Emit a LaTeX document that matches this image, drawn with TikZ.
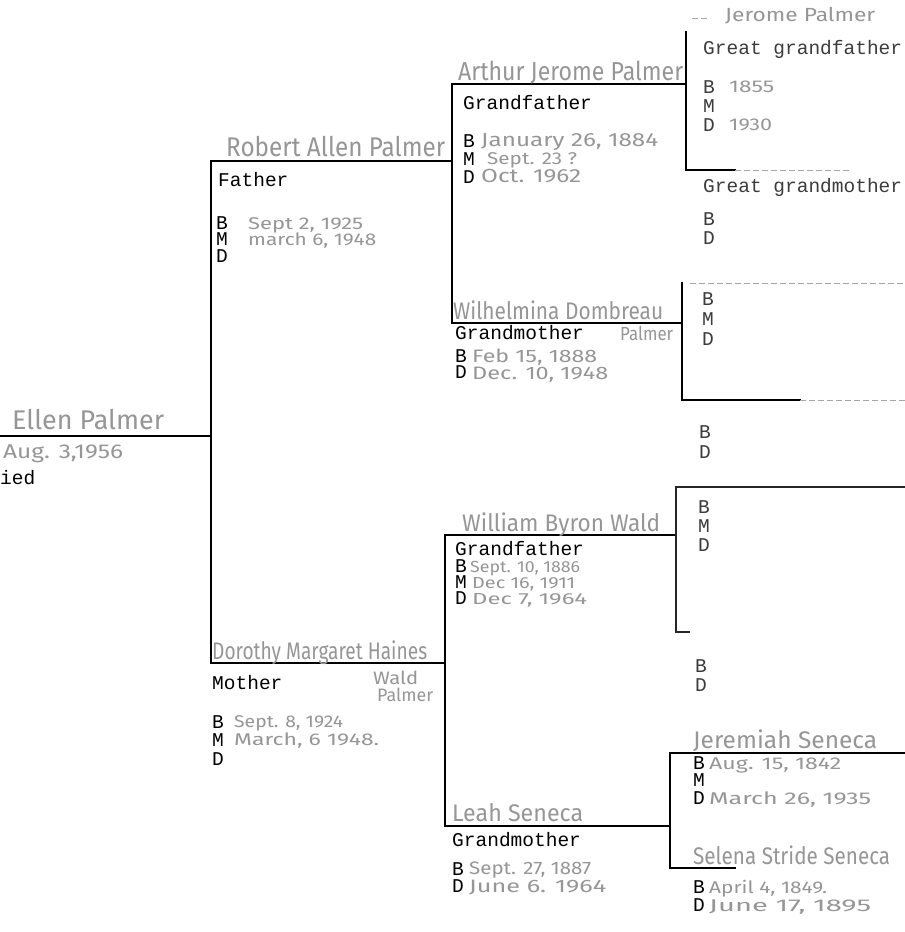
\documentclass[tikz,border=0pt]{standalone}
\usepackage{fontspec}
\newfontfamily\tw{Liberation Mono}
\newfontfamily\hand{Fira Sans}
\definecolor{hgray}{RGB}{150,150,150}
\definecolor{tgray}{RGB}{60,60,60}
\newsavebox\hwbox
\newcommand\hw[3]{\sbox\hwbox{\fontsize{#1}{#1}\hand #3}\pgfmathsetmacro\hwfac{#2/\the\wd\hwbox}\scalebox{\hwfac}[1]{\usebox\hwbox}}
\tikzset{
  hand/.style={anchor=base west, inner sep=0pt, text=hgray, text height=12pt, text depth=2pt},
  typed/.style={anchor=base west, inner sep=0pt, font=\fontsize{19.5}{19.5}\tw, text height=11pt, text depth=1pt},
  typedl/.style={typed, text=tgray},
  chart/.style={line width=2.6pt, black, line cap=rect},
  thin chart/.style={line width=1.8pt, black!85},
  faint/.style={line width=1pt, black!35, dash pattern=on 6pt off 3pt}
}
\begin{document}
\begin{tikzpicture}[x=1pt,y=-1pt]
\fill[white] (0,0) rectangle (905,932);
\useasboundingbox (0,0) rectangle (905,932);

% ---------- coordinates of the chart lines
\coordinate (s0) at (0,436);
\coordinate (s1) at (211,436);
\coordinate (pT) at (211,161);
\coordinate (pB) at (211,663);
\coordinate (fR) at (452,161);
\coordinate (mR) at (445,663);
\coordinate (pgfL) at (452,84);
\coordinate (pgfR) at (686,84);
\coordinate (pgmL) at (452,323);
\coordinate (pgmR) at (682,323);
\coordinate (g1t) at (686,32);
\coordinate (g1b) at (686,170);
\coordinate (g1r) at (735,170);
\coordinate (g1f) at (850,170);
\coordinate (g1a) at (692,18);
\coordinate (g1c) at (710,18);
\coordinate (g2t) at (682,283);
\coordinate (g2b) at (682,400);
\coordinate (g2r) at (800,400);
\coordinate (g2f) at (905,400);
\coordinate (g2ta) at (690,283);
\coordinate (g2tb) at (905,283);
\coordinate (mgfL) at (445,535);
\coordinate (mgfR) at (676,535);
\coordinate (mgmL) at (445,826);
\coordinate (mgmR) at (670,826);
\coordinate (g3t) at (676,487);
\coordinate (g3b) at (676,632);
\coordinate (g3r) at (905,487);
\coordinate (g3s) at (690,632);
\coordinate (g4t) at (670,753);
\coordinate (g4b) at (670,868);
\coordinate (g4r) at (905,753);
\coordinate (g4s) at (735,868);

% ---------- chart lines
\draw[chart] (s0) -- (s1);
\draw[chart] (pT) -- (pB);
\draw[chart] (pT) -- (fR);
\draw[chart] (pB) -- (mR);
\draw[chart] (pgfR) -- (pgfL) -- (pgmL) -- (pgmR);
\draw[chart] (g1t) -- (g1b) -- (g1r);
\draw[faint] (g1r) -- (g1f);
\draw[faint] (g1a) -- (g1c);
\draw[chart] (g2t) -- (g2b) -- (g2r);
\draw[faint] (g2r) -- (g2f);
\draw[faint] (g2ta) -- (g2tb);
\draw[chart] (mgfR) -- (mgfL) -- (mgmL) -- (mgmR);
\draw[thin chart] (g3r) -- (g3t) -- (g3b) -- (g3s);
\draw[chart] (g4r) -- (g4t) -- (g4b) -- (g4s);

% ---------- self
\node[hand] (selfN) at (12,429) {\hw{27}{152}{Ellen Palmer}};
\node[hand] (selfB) at (3,458) {\hw{20}{120}{Aug. 3,1956}};
\node[typed] (selfM) at (0,484) {ied};

% ---------- father
\node[hand] (faN) at (226,156) {\hw{27}{219}{Robert Allen Palmer}};
\node[typed] (faT) at (218,186) {Father};
\node[typed] (faB) at (216,229) {B};
\node[hand] (faBd) at (248,229) {\hw{17}{115}{Sept 2, 1925}};
\node[typed] (faM) at (216,245) {M};
\node[hand] (faMd) at (248,245) {\hw{17}{128}{march 6, 1948}};
\node[typed] (faD) at (216,262) {D};

% ---------- paternal grandfather
\node[hand] (pgfN) at (458,80) {\hw{26}{225}{Arthur Jerome Palmer}};
\node[typed] (pgfT) at (463,109) {Grandfather};
\node[typed] (pgfB) at (463,147) {B};
\node[hand] (pgfBd) at (481,146) {\hw{19}{177}{January 26, 1884}};
\node[typed] (pgfM) at (463,165) {M};
\node[hand] (pgfMd) at (487,164) {\hw{17}{90}{Sept. 23 ?}};
\node[typed] (pgfD) at (463,183) {D};
\node[hand] (pgfDd) at (481,182) {\hw{19}{100}{Oct. 1962}};

% ---------- great grandparents
\node[hand] (g1N) at (725,21) {\hw{19}{150}{Jerome Palmer}};
\node[typedl] (g1T) at (703,54) {Great grandfather};
\node[typedl] (g1B) at (703,93) {B};
\node[hand] (g1Bd) at (729,92) {\hw{17}{45}{1855}};
\node[typedl] (g1M) at (703,112) {M};
\node[typedl] (g1D) at (703,131) {D};
\node[hand] (g1Dd) at (729,130) {\hw{17}{43}{1930}};
\node[typedl] (g1T2) at (703,192) {Great grandmother};
\node[typedl] (g1B2) at (703,225) {B};
\node[typedl] (g1D2) at (703,244) {D};

% ---------- paternal grandmother
\node[hand] (pgmN) at (453,319) {\hw{24}{210}{Wilhelmina Dombreau}};
\node[typed] (pgmT) at (455,339) {Grandmother};
\node[hand] (pgmP) at (620,340) {\hw{19}{53}{Palmer}};
\node[typed] (pgmB) at (455,362) {B};
\node[hand] (pgmBd) at (472,362) {\hw{18}{125}{Feb 15, 1888}};
\node[typed] (pgmD) at (455,378) {D};
\node[hand] (pgmDd) at (472,379) {\hw{18}{136}{Dec. 10, 1948}};

\node[typedl] (g2B) at (702,305) {B};
\node[typedl] (g2M) at (702,325) {M};
\node[typedl] (g2D) at (702,345) {D};
\node[typedl] (g2B2) at (699,438) {B};
\node[typedl] (g2D2) at (699,458) {D};

% ---------- mother
\node[hand] (moN) at (212,659) {\hw{24}{215}{Dorothy Margaret Haines}};
\node[typed] (moT) at (212,689) {Mother};
\node[hand] (moW) at (373,684) {\hw{18}{45}{Wald}};
\node[hand] (moP) at (377,701) {\hw{18}{56}{Palmer}};
\node[typed] (moB) at (212,728) {B};
\node[hand] (moBd) at (234,727) {\hw{17}{109}{Sept. 8, 1924}};
\node[typed] (moM) at (212,746) {M};
\node[hand] (moMd) at (234,745) {\hw{17}{145}{March, 6 1948.}};
\node[typed] (moD) at (212,765) {D};

% ---------- maternal grandfather
\node[hand] (mgfN) at (462,531) {\hw{24}{198}{William Byron Wald}};
\node[typed] (mgfT) at (455,555) {Grandfather};
\node[typed] (mgfB) at (455,572) {B};
\node[hand] (mgfBd) at (470,572) {\hw{16}{110}{Sept. 10, 1886}};
\node[typed] (mgfM) at (455,588) {M};
\node[hand] (mgfMd) at (472,588) {\hw{16}{103}{Dec 16, 1911}};
\node[typed] (mgfD) at (455,604) {D};
\node[hand] (mgfDd) at (472,604) {\hw{16}{115}{Dec 7, 1964}};

\node[typedl] (g3B) at (698,513) {B};
\node[typedl] (g3M) at (698,532) {M};
\node[typedl] (g3D) at (698,551) {D};
\node[typedl] (g3B2) at (695,672) {B};
\node[typedl] (g3D2) at (695,691) {D};

% ---------- maternal grandmother
\node[hand] (mgmN) at (452,821) {\hw{24}{131}{Leah Seneca}};
\node[typed] (mgmT) at (452,846) {Grandmother};
\node[typed] (mgmB) at (452,875) {B};
\node[hand] (mgmBd) at (469,874) {\hw{18}{122}{Sept. 27, 1887}};
\node[typed] (mgmD) at (452,892) {D};
\node[hand] (mgmDd) at (469,892) {\hw{18}{137}{June 6. 1964}};

% ---------- Jeremiah & Selena
\node[hand] (g4N) at (693,748) {\hw{24}{184}{Jeremiah Seneca}};
\node[typed] (g4B) at (693,769) {B};
\node[hand] (g4Bd) at (709,769) {\hw{17}{132}{Aug. 15, 1842}};
\node[typed] (g4M) at (693,786) {M};
\node[typed] (g4D) at (693,804) {D};
\node[hand] (g4Dd) at (709,804) {\hw{17}{162}{March 26, 1935}};
\node[hand] (g5N) at (693,864) {\hw{24}{197}{Selena Stride Seneca}};
\node[typed] (g5B) at (693,893) {B};
\node[hand] (g5Bd) at (709,893) {\hw{17}{118}{April 4, 1849.}};
\node[typed] (g5D) at (693,911) {D};
\node[hand] (g5Dd) at (709,911) {\hw{17}{162}{June 17, 1895}};
\end{tikzpicture}
\end{document}
